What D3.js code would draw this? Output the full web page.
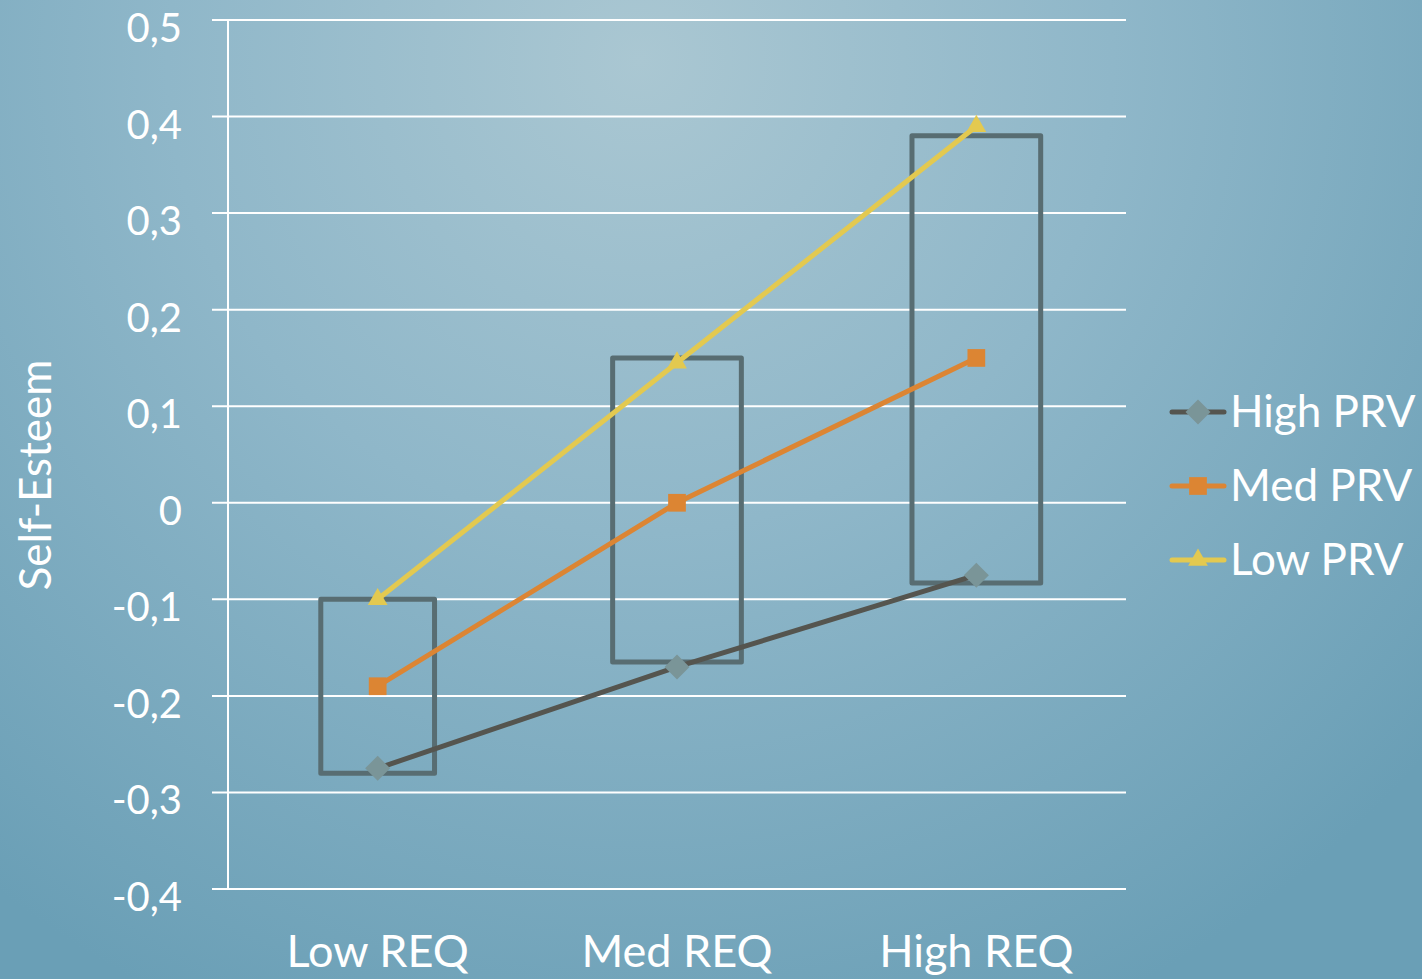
<!DOCTYPE html>
<html>
<head>
<meta charset="utf-8">
<script src="https://cdn.jsdelivr.net/npm/d3@7"></script>
<style>
  html, body { margin: 0; padding: 0; }
  body { width: 1422px; height: 979px; overflow: hidden; }
  svg { display: block; font-family: Lato, "Open Sans", sans-serif; }
</style>
</head>
<body>
<svg id="chart" width="1422" height="979"></svg>
<script>
// Categories and series
const categories = ["Low REQ", "Med REQ", "High REQ"];
const seriesNames = ["High PRV", "Med PRV", "Low PRV"];
const highPRV = [-0.275, -0.17, -0.075];
const medPRV = [-0.19, 0.0, 0.15];
const lowPRV = [-0.1, 0.145, 0.39];

// Range boxes per category (top / bottom values, share of band width)
const boxTop = [-0.1, 0.15, 0.38];
const boxBottom = [-0.28, -0.165, -0.083];
const boxSpan = [0.38, 0.43, 0.43];

// Y axis ticks
const yTicks = [0.5, 0.4, 0.3, 0.2, 0.1, 0, -0.1, -0.2, -0.3, -0.4];
const yTickLabels = ["0,5", "0,4", "0,3", "0,2", "0,1", "0", "-0,1", "-0,2", "-0,3", "-0,4"];

const W = 1422, H = 979;
const svg = d3.select("#chart");

// Background gradient
const defs = svg.append("defs");
const grad = defs.append("radialGradient")
  .attr("id", "bg")
  .attr("gradientUnits", "userSpaceOnUse")
  .attr("cx", 640).attr("cy", 60).attr("r", 1050);
grad.append("stop").attr("offset", "0%").attr("stop-color", "#aac7d2");
grad.append("stop").attr("offset", "45%").attr("stop-color", "#8fb7c9");
grad.append("stop").attr("offset", "100%").attr("stop-color", "#6a9fb6");
svg.append("rect").attr("width", W).attr("height", H).attr("fill", "url(#bg)");

const margin = { left: 228, right: 1126, top: 20, bottom: 889 };

const x = d3.scaleBand().domain(categories).range([margin.left, margin.right]);
const y = d3.scaleLinear().domain([-0.4, 0.5]).range([margin.bottom, margin.top]);
const cx = c => x(c) + x.bandwidth() / 2;

// Gridlines with left tick stubs
const grid = svg.append("g");
grid.selectAll("line").data(yTicks).enter().append("line")
  .attr("x1", margin.left - 16).attr("x2", margin.right)
  .attr("y1", d => y(d)).attr("y2", d => y(d))
  .attr("stroke", "#ffffff").attr("stroke-width", 2);

// Vertical axis line
svg.append("line")
  .attr("x1", margin.left).attr("x2", margin.left)
  .attr("y1", y(0.5)).attr("y2", y(-0.4))
  .attr("stroke", "#ffffff").attr("stroke-width", 2);

// Y tick labels
svg.append("g").selectAll("text").data(yTicks).enter().append("text")
  .attr("x", 182).attr("y", d => y(d))
  .attr("dy", "0.55em")
  .attr("text-anchor", "end")
  .attr("fill", "#ffffff").attr("font-size", 40)
  .text((d, i) => yTickLabels[i]);

// X category labels
svg.append("g").selectAll("text").data(categories).enter().append("text")
  .attr("x", d => cx(d)).attr("y", 967)
  .attr("text-anchor", "middle")
  .attr("fill", "#ffffff").attr("font-size", 45)
  .text(d => d);

// Y axis title
svg.append("text")
  .attr("transform", "translate(51, 475) rotate(-90)")
  .attr("text-anchor", "middle")
  .attr("fill", "#ffffff").attr("font-size", 44)
  .text("Self-Esteem");

// Range boxes
svg.append("g").selectAll("rect").data(categories).enter().append("rect")
  .attr("x", (d, i) => cx(d) - x.bandwidth() * boxSpan[i] / 2)
  .attr("width", (d, i) => x.bandwidth() * boxSpan[i])
  .attr("y", (d, i) => y(boxTop[i]))
  .attr("height", (d, i) => y(boxBottom[i]) - y(boxTop[i]))
  .attr("fill", "none")
  .attr("stroke", "#586d72").attr("stroke-width", 5)
  .attr("stroke-linejoin", "round");

const series = [
  { name: seriesNames[0], values: highPRV, line: "#55554f", marker: "#7a9598", shape: d3.symbolDiamond2 },
  { name: seriesNames[1], values: medPRV, line: "#dc8533", marker: "#dc8533", shape: d3.symbolSquare2 },
  { name: seriesNames[2], values: lowPRV, line: "#e3c950", marker: "#e3c950", shape: d3.symbolTriangle2 }
];

const lineGen = d3.line().x(d => cx(d.c)).y(d => y(d.v));
const markerSize = s => s.shape === d3.symbolTriangle2 ? 280 : 400;

series.forEach(s => {
  const pts = categories.map((c, i) => ({ c, v: s.values[i] }));
  svg.append("path").datum(pts)
    .attr("d", lineGen)
    .attr("fill", "none")
    .attr("stroke", s.line).attr("stroke-width", 5)
    .attr("stroke-linecap", "round");
  svg.append("g").selectAll("path").data(pts).enter().append("path")
    .attr("transform", d => `translate(${cx(d.c)},${y(d.v)})`)
    .attr("d", d3.symbol().type(s.shape).size(markerSize(s)))
    .attr("fill", s.marker);
});

// Legend
const legend = svg.append("g").attr("transform", "translate(1172, 412)");
series.forEach((s, i) => {
  const g = legend.append("g").attr("transform", `translate(0, ${i * 74})`);
  g.append("line").attr("x1", 0).attr("x2", 52).attr("y1", 0).attr("y2", 0)
    .attr("stroke", s.line).attr("stroke-width", 5).attr("stroke-linecap", "round");
  g.append("path").attr("transform", "translate(26,0)")
    .attr("d", d3.symbol().type(s.shape).size(markerSize(s)))
    .attr("fill", s.marker);
  g.append("text").attr("x", 58).attr("y", 0).attr("dy", "0.35em")
    .attr("fill", "#ffffff").attr("font-size", 44)
    .text(s.name);
});
</script>
</body>
</html>
